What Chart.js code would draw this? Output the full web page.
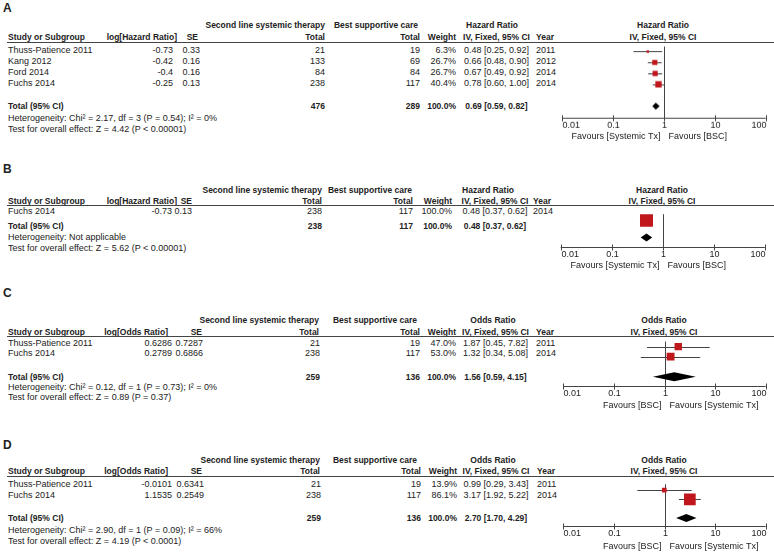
<!DOCTYPE html>
<html>
<head>
<meta charset="utf-8">
<script src="https://cdn.jsdelivr.net/npm/chart.js@4.4.1/dist/chart.umd.min.js"></script>
<style>
  body { margin: 0; background: #fff; width: 774px; height: 552px; position: relative; overflow: hidden;
         font-family: "Liberation Sans", Arial, sans-serif; color: #222; }
  .t { position: absolute; font-size: 9px; line-height: 11px; white-space: nowrap; }
  .b { font-weight: bold; font-size: 8.5px; }
  .lab { font-weight: bold; font-size: 12px; line-height: 14px; }
  .rule { position: absolute; left: 7px; right: 0; border-top: 1px solid #444; height: 0; }
  .plot { position: absolute; left: 545px; width: 229px; }
</style>
</head>
<body>
<script>
// axis ticks shared by all four panels
const tickValues = [0.01, 0.1, 1, 10, 100];
const tickLabels = ['0.01', '0.1', '1', '10', '100'];

// A - hazard ratio, all studies
const studiesA = ['Thuss-Patience 2011', 'Kang 2012', 'Ford 2014', 'Fuchs 2014'];
const logA = [-0.73, -0.42, -0.4, -0.25];
const seA = [0.33, 0.16, 0.16, 0.13];
const txA = [21, 133, 84, 238];
const bscA = [19, 69, 84, 117];
const weightA = [6.3, 26.7, 26.7, 40.4];
const estA = [0.48, 0.66, 0.67, 0.78];
const loA = [0.25, 0.48, 0.49, 0.60];
const hiA = [0.92, 0.90, 0.92, 1.00];
const yearA = [2011, 2012, 2014, 2014];
const pooledA = [0.69, 0.59, 0.82];
const sumsA = [476, 289];

// B - hazard ratio, Fuchs only
const studiesB = ['Fuchs 2014'];
const logB = [-0.73];
const seB = [0.13];
const txB = [238];
const bscB = [117];
const weightB = [100];
const estB = [0.48];
const loB = [0.37];
const hiB = [0.62];
const yearB = [2014];
const pooledB = [0.48, 0.37, 0.62];
const sumsB = [238, 117];

// C - odds ratio
const studiesC = ['Thuss-Patience 2011', 'Fuchs 2014'];
const logC = [0.6286, 0.2789];
const seC = [0.7287, 0.6866];
const txC = [21, 238];
const bscC = [19, 117];
const weightC = [47.0, 53.0];
const estC = [1.87, 1.32];
const loC = [0.45, 0.34];
const hiC = [7.82, 5.08];
const yearC = [2011, 2014];
const pooledC = [1.56, 0.59, 4.15];
const sumsC = [259, 136];

// D - odds ratio
const studiesD = ['Thuss-Patience 2011', 'Fuchs 2014'];
const logD = [-0.0101, 1.1535];
const seD = [0.6341, 0.2549];
const txD = [21, 238];
const bscD = [19, 117];
const weightD = [13.9, 86.1];
const estD = [0.99, 3.17];
const loD = [0.29, 1.92];
const hiD = [3.43, 5.22];
const yearD = [2011, 2014];
const pooledD = [2.70, 1.70, 4.29];
const sumsD = [259, 136];

const RED = '#c0171c';
const LINE = '#444';
const FONT = '9px "Liberation Sans", Arial, sans-serif';

// where each panel sits on the page
const layouts = {
  A: { label: 8, h1: 25, h2: 37, rule: 42, rows: [50, 61, 72, 83], total: 106, het: 118, test: 129,
       axis: 117, tick: 125, fav: 135.5, mark0: 47.3, step: 11.5, x0: 562.3, x1: 765.7, box: 1.0, dia: 3.5,
       c: { logHead: 177, log: 173, seHead: 198, se: 200, txHead: 325, tx: 325, bscHead: 418, bsc: 420,
            wt: 456, ci: 496.5, year: 536, meas: 492, plot: 663 } },
  B: { label: 169, h1: 190, h2: 201, rule: 204.5, rows: [211], total: 226, het: 237, test: 248,
       axis: 246, tick: 254, fav: 265, mark0: 212.3, step: 11, x0: 560.7, x1: 765.7, box: 1.3, dia: 4,
       c: { logHead: 177, log: 172, seHead: 192, se: 192, txHead: 322, tx: 322, bscHead: 412, bsc: 413,
            wt: 452, ci: 495, year: 533, meas: 488, plot: 662 } },
  C: { label: 293, h1: 320, h2: 332, rule: 336, rows: [343.3, 353.3], total: 377.7, het: 387.7, test: 397.3,
       axis: 385.7, tick: 393.5, fav: 406, mark0: 341.7, step: 11.3, x0: 563.3, x1: 765.7, box: 1.08, dia: 4.5,
       c: { logHead: 168, log: 172, seHead: 202, se: 203, txHead: 319, tx: 320, bscHead: 417, bsc: 420,
            wt: 456, ci: 495.5, year: 536, meas: 493, plot: 664 } },
  D: { label: 445, h1: 460, h2: 471.5, rule: 475.5, rows: [484, 495], total: 518, het: 530, test: 541,
       axis: 525.7, tick: 533.5, fav: 546.5, mark0: 482.5, step: 11.1, x0: 563.3, x1: 765.7, box: 1.26, dia: 4,
       c: { logHead: 168, log: 172, seHead: 202, se: 204, txHead: 320, tx: 321, bscHead: 417, bsc: 421,
            wt: 457, ci: 496, year: 537, meas: 493, plot: 664 } }
};

function txt(x, y, s, align, cls) {
  const d = document.createElement('div');
  d.className = 't' + (cls ? ' ' + cls : '');
  d.textContent = s;
  const lh = cls === 'lab' ? 14 : 11;
  d.style.top = (y - lh / 2) + 'px';
  if (align === 'r') { d.style.left = (x - 300) + 'px'; d.style.width = '300px'; d.style.textAlign = 'right'; }
  else if (align === 'c') { d.style.left = (x - 150) + 'px'; d.style.width = '300px'; d.style.textAlign = 'center'; }
  else d.style.left = x + 'px';
  document.body.appendChild(d);
}

function ci(e, l, h) {
  return e.toFixed(2) + ' [' + l.toFixed(2) + ', ' + h.toFixed(2) + ']';
}

function line(ctx, x1, y1, x2, y2) {
  ctx.beginPath(); ctx.moveTo(x1, y1); ctx.lineTo(x2, y2); ctx.stroke();
}

function panel(name, p) {
  const L = layouts[name], c = L.c;
  txt(3, L.label, name, 'l', 'lab');

  // table headers
  txt(c.txHead, L.h1, 'Second line systemic therapy', 'r', 'b');
  txt(c.bscHead, L.h1, 'Best supportive care', 'r', 'b');
  txt(c.meas, L.h1, p.measure, 'c', 'b');
  txt(c.plot, L.h1, p.measure, 'c', 'b');
  txt(8, L.h2, 'Study or Subgroup', 'l', 'b');
  txt(c.logHead, L.h2, 'log[' + p.measure + ']', 'r', 'b');
  txt(c.seHead, L.h2, 'SE', 'r', 'b');
  txt(c.txHead, L.h2, 'Total', 'r', 'b');
  txt(c.bsc, L.h2, 'Total', 'r', 'b');
  txt(c.wt, L.h2, 'Weight', 'r', 'b');
  txt(c.ci, L.h2, 'IV, Fixed, 95% CI', 'c', 'b');
  txt(c.year, L.h2, 'Year', 'l', 'b');
  txt(c.plot, L.h2, 'IV, Fixed, 95% CI', 'c', 'b');

  const r = document.createElement('div');
  r.className = 'rule';
  r.style.top = L.rule + 'px';
  document.body.appendChild(r);

  // study rows
  p.studies.forEach((s, i) => {
    const y = L.rows[i];
    txt(8, y, s, 'l');
    txt(c.log, y, String(p.log[i]), 'r');
    txt(c.se, y, String(p.se[i]), 'r');
    txt(c.tx, y, String(p.tx[i]), 'r');
    txt(c.bsc, y, String(p.bsc[i]), 'r');
    txt(c.wt, y, p.weight[i].toFixed(1) + '%', 'r');
    txt(c.ci, y, ci(p.est[i], p.lo[i], p.hi[i]), 'c');
    txt(c.year, y, String(p.year[i]), 'l');
  });

  // total row + footnotes
  txt(8, L.total, 'Total (95% CI)', 'l', 'b');
  txt(c.tx, L.total, String(p.sums[0]), 'r', 'b');
  txt(c.bsc, L.total, String(p.sums[1]), 'r', 'b');
  txt(c.wt, L.total, '100.0%', 'r', 'b');
  txt(c.ci, L.total, ci(p.pooled[0], p.pooled[1], p.pooled[2]), 'c', 'b');
  txt(8, L.het, p.het, 'l');
  txt(8, L.test, p.test, 'l');

  // forest plot canvas
  const h = L.fav + 8 - L.rule;
  const wrap = document.createElement('div');
  wrap.className = 'plot';
  wrap.style.top = L.rule + 'px';
  wrap.style.height = h + 'px';
  const cv = document.createElement('canvas');
  wrap.appendChild(cv);
  document.body.appendChild(wrap);

  const totalIdx = p.studies.length + 1;

  const forest = {
    id: 'forest' + name,
    beforeDatasetsDraw(chart) {
      const { ctx, chartArea: a, scales: { x, y } } = chart;
      ctx.save();
      ctx.strokeStyle = LINE;
      ctx.lineWidth = 1;
      const xOne = Math.round(x.getPixelForValue(1)) + 0.5;
      line(ctx, xOne, a.top, xOne, a.bottom);
      p.lo.forEach((l, i) => {
        const yy = Math.round(y.getPixelForValue(i)) + 0.5;
        line(ctx, x.getPixelForValue(l), yy, x.getPixelForValue(p.hi[i]), yy);
      });
      const ay = Math.round(a.bottom) + 0.5;
      line(ctx, a.left, ay, a.right, ay);
      ctx.fillStyle = '#222';
      ctx.font = FONT;
      ctx.textBaseline = 'middle';
      tickValues.forEach((v, k) => {
        const px = Math.round(x.getPixelForValue(v)) + 0.5;
        line(ctx, px, ay - 3, px, ay + 3);
        ctx.textAlign = k === 0 ? 'left' : (k === tickValues.length - 1 ? 'right' : 'center');
        ctx.fillText(tickLabels[k], px, L.tick - L.rule);
      });
      ctx.textAlign = 'right';
      ctx.fillText(p.favL, xOne - 4, L.fav - L.rule);
      ctx.textAlign = 'left';
      ctx.fillText(p.favR, xOne + 4, L.fav - L.rule);
      ctx.restore();
    },
    afterDatasetsDraw(chart) {
      const { ctx, scales: { x, y } } = chart;
      const yy = y.getPixelForValue(totalIdx);
      ctx.save();
      ctx.fillStyle = '#000';
      ctx.beginPath();
      ctx.moveTo(x.getPixelForValue(p.pooled[1]), yy);
      ctx.lineTo(x.getPixelForValue(p.pooled[0]), yy - L.dia);
      ctx.lineTo(x.getPixelForValue(p.pooled[2]), yy);
      ctx.lineTo(x.getPixelForValue(p.pooled[0]), yy + L.dia);
      ctx.closePath();
      ctx.fill();
      ctx.restore();
    }
  };

  new Chart(cv, {
    type: 'scatter',
    data: {
      datasets: [{
        data: p.est.map((v, i) => ({ x: v, y: i })),
        pointStyle: 'rect',
        pointRadius: p.weight.map(w => Math.sqrt(w) * L.box / Math.SQRT2),
        backgroundColor: RED,
        borderWidth: 0
      }]
    },
    options: {
      responsive: true,
      maintainAspectRatio: false,
      animation: false,
      events: [],
      layout: { padding: { left: L.x0 - 545, right: 774 - L.x1, top: 0, bottom: h - (L.axis - L.rule) } },
      plugins: { legend: { display: false }, tooltip: { enabled: false } },
      scales: {
        x: { type: 'logarithmic', min: 0.01, max: 100, display: false },
        y: { type: 'linear', reverse: true, display: false,
             min: (L.rule - L.mark0) / L.step, max: (L.axis - L.mark0) / L.step }
      }
    },
    plugins: [forest]
  });
}

panel('A', { studies: studiesA, log: logA, se: seA, tx: txA, bsc: bscA, weight: weightA, est: estA, lo: loA, hi: hiA,
  year: yearA, pooled: pooledA, sums: sumsA, measure: 'Hazard Ratio',
  het: 'Heterogeneity: Chi\u00b2 = 2.17, df = 3 (P = 0.54); I\u00b2 = 0%',
  test: 'Test for overall effect: Z = 4.42 (P < 0.00001)',
  favL: 'Favours [Systemic Tx]', favR: 'Favours [BSC]' });

panel('B', { studies: studiesB, log: logB, se: seB, tx: txB, bsc: bscB, weight: weightB, est: estB, lo: loB, hi: hiB,
  year: yearB, pooled: pooledB, sums: sumsB, measure: 'Hazard Ratio',
  het: 'Heterogeneity: Not applicable',
  test: 'Test for overall effect: Z = 5.62 (P < 0.00001)',
  favL: 'Favours [Systemic Tx]', favR: 'Favours [BSC]' });

panel('C', { studies: studiesC, log: logC, se: seC, tx: txC, bsc: bscC, weight: weightC, est: estC, lo: loC, hi: hiC,
  year: yearC, pooled: pooledC, sums: sumsC, measure: 'Odds Ratio',
  het: 'Heterogeneity: Chi\u00b2 = 0.12, df = 1 (P = 0.73); I\u00b2 = 0%',
  test: 'Test for overall effect: Z = 0.89 (P = 0.37)',
  favL: 'Favours [BSC]', favR: 'Favours [Systemic Tx]' });

panel('D', { studies: studiesD, log: logD, se: seD, tx: txD, bsc: bscD, weight: weightD, est: estD, lo: loD, hi: hiD,
  year: yearD, pooled: pooledD, sums: sumsD, measure: 'Odds Ratio',
  het: 'Heterogeneity: Chi\u00b2 = 2.90, df = 1 (P = 0.09); I\u00b2 = 66%',
  test: 'Test for overall effect: Z = 4.19 (P < 0.0001)',
  favL: 'Favours [BSC]', favR: 'Favours [Systemic Tx]' });
</script>
</body>
</html>
